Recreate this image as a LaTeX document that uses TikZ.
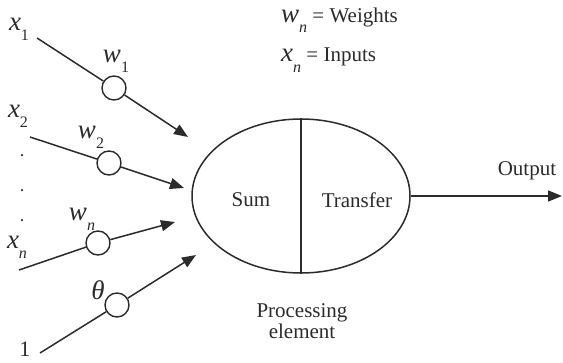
\documentclass[tikz,border=0pt]{standalone}
\usepackage{fontspec}
\setmainfont{Liberation Serif}
\usetikzlibrary{arrows.meta,shapes.geometric}
\definecolor{ink}{gray}{0.17}
% variable with subscript, set in text italic
\newcommand\vsub[2]{\textit{#1}\raisebox{-0.38em}{\fontsize{16}{16}\selectfont #2}}
\tikzset{
  txt/.style={text=ink,font=\fontsize{21}{25}\selectfont,inner sep=0pt},
  var/.style={text=ink,font=\fontsize{27}{29}\selectfont,inner sep=0pt},
  wcircle/.style={circle,draw=ink,line width=1.4pt,fill=white,minimum size=24pt,inner sep=0pt},
  link/.style={draw=ink,line width=1.5pt},
  arr/.style={link,-{Triangle[length=14pt,width=11pt]}},
  dotmark/.style={circle,fill=ink,minimum size=2.5pt,inner sep=0pt}
}
\begin{document}
\begin{tikzpicture}[x=1pt,y=-1pt]
\useasboundingbox (0,0) rectangle (563,362);

% processing element
\node[ellipse,draw=ink,line width=1.5pt,minimum width=218pt,minimum height=154pt,inner sep=0pt] (pe) at (301,196) {};
\draw[link] (pe.north) -- (pe.south);
\node[txt] (sum) at (251,200) {Sum};
\node[txt] (transfer) at (357,200) {Transfer};
\node[txt,align=center] (pelabel) at (302,321) {Processing\\[-4pt]element};

% output
\coordinate (out) at (562,196);
\draw[arr] (pe.east) -- (out);
\node[txt] (outlabel) at (527,171) {Output};

% legend
\node[txt,anchor=west] (legw) at (281,20) {\fontsize{27}{29}\selectfont\vsub{w}{\textit{n}}\fontsize{21}{25}\selectfont\ = Weights};
\node[txt,anchor=west] (legx) at (281,60) {\fontsize{27}{29}\selectfont\vsub{x}{\textit{n}}\fontsize{21}{25}\selectfont\ = Inputs};

% input 1
\node[var] (x1) at (19,29) {\vsub{x}{1}};
\coordinate (s1) at (37,38);
\node[wcircle] (c1) at (114,88) {};
\coordinate (t1) at (188,137);
\node[var] (w1) at (116,61) {\vsub{w}{1}};
\draw[link] (s1) -- (c1);
\draw[arr] (c1) -- (t1);

% input 2
\node[var] (x2) at (18,116) {\vsub{x}{2}};
\coordinate (s2) at (30,137);
\node[wcircle] (c2) at (109,163) {};
\coordinate (t2) at (184,188);
\node[var] (w2) at (91,137) {\vsub{w}{2}};
\draw[link] (s2) -- (c2);
\draw[arr] (c2) -- (t2);

% elided inputs
\node[dotmark] (d1) at (22,155) {};
\node[dotmark] (d2) at (22,190) {};
\node[dotmark] (d3) at (22,220) {};

% input n
\node[var] (xn) at (17,247) {\vsub{x}{\textit{n}}};
\coordinate (sn) at (19,270);
\node[wcircle] (cn) at (98,243) {};
\coordinate (tn) at (175,222);
\node[var] (wn) at (82,219) {\vsub{w}{\textit{n}}};
\draw[link] (sn) -- (cn);
\draw[arr] (cn) -- (tn);

% bias
\node[txt,font=\fontsize{22}{24}\selectfont] (one) at (25,349) {1};
\coordinate (sb) at (40,353);
\node[wcircle] (cb) at (117,305) {};
\coordinate (tb) at (196,255);
\node[var] (theta) at (98,290) {\textit{θ}};
\draw[link] (sb) -- (cb);
\draw[arr] (cb) -- (tb);
\end{tikzpicture}
\end{document}
